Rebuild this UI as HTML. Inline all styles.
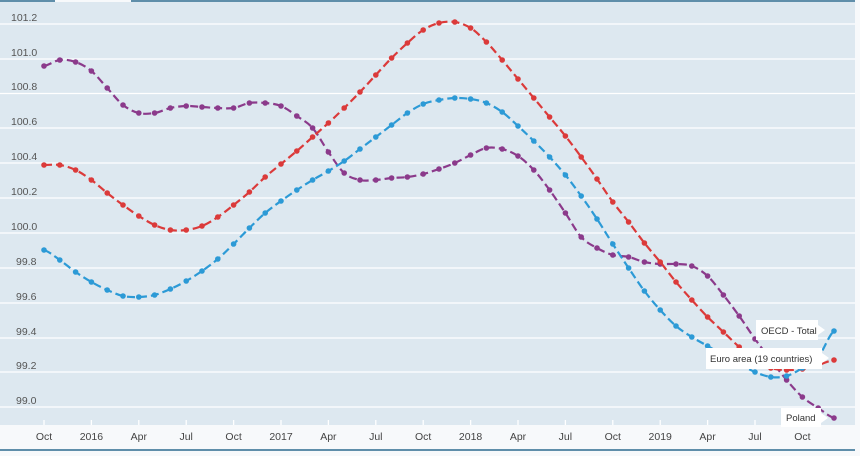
<!DOCTYPE html>
<html><head><meta charset="utf-8"><style>
html,body{margin:0;padding:0;background:#fff;}
svg{display:block;font-family:"Liberation Sans",sans-serif;}
</style></head><body>
<svg id="c" width="860" height="456" xmlns="http://www.w3.org/2000/svg">
<rect x="0" y="0" width="860" height="456" fill="#f7f9fb"/>
<rect x="0" y="2" width="855" height="423" fill="#dde8f0"/>
<line x1="0" y1="1" x2="55" y2="1" stroke="#2d6b8f" stroke-width="1.5"/>
<line x1="131" y1="1" x2="855" y2="1" stroke="#2d6b8f" stroke-width="1.5"/>
<g stroke="#fff" stroke-width="1.3">
<line x1="0" y1="24" x2="855" y2="24"/><line x1="0" y1="59" x2="855" y2="59"/>
<line x1="0" y1="93.5" x2="855" y2="93.5"/><line x1="0" y1="128" x2="855" y2="128"/>
<line x1="0" y1="163" x2="855" y2="163"/><line x1="0" y1="198" x2="855" y2="198"/>
<line x1="0" y1="233" x2="855" y2="233"/><line x1="0" y1="268" x2="855" y2="268"/>
<line x1="0" y1="303" x2="855" y2="303"/><line x1="0" y1="338" x2="855" y2="338"/>
<line x1="0" y1="372" x2="855" y2="372"/><line x1="0" y1="407" x2="855" y2="407"/>
</g>
<g font-size="10.5" fill="#555">
<text x="11" y="21">101.2</text><text x="11" y="56">101.0</text><text x="11" y="90">100.8</text>
<text x="11" y="125">100.6</text><text x="11" y="160">100.4</text><text x="11" y="195">100.2</text>
<text x="11" y="230">100.0</text><text x="16" y="265">99.8</text><text x="16" y="300">99.6</text>
<text x="16" y="335">99.4</text><text x="16" y="369">99.2</text><text x="16" y="404">99.0</text>
</g>
<g id="ticks" stroke="#fff" stroke-width="1.3"></g>
<g id="xl" font-size="10.5" fill="#444" text-anchor="middle"></g>
<line x1="0" y1="450" x2="855" y2="450" stroke="#2d6b8f" stroke-width="1.5"/>
<g id="series"></g>
<g font-size="9.5" fill="#333">
<rect x="756" y="320" width="62" height="20" fill="#fff"/><polygon points="818,325 825,330 818,335" fill="#fff"/>
<text x="761" y="334">OECD - Total</text>
<rect x="706" y="348" width="116" height="21" fill="#fff"/><polygon points="822,353 829,358 822,363" fill="#fff"/>
<text x="710" y="362">Euro area (19 countries)</text>
<rect x="781" y="408" width="40" height="19" fill="#fff"/><polygon points="821,413 828,418 821,423" fill="#fff"/>
<text x="786" y="421">Poland</text>
</g>
</svg>
<script>
var ns="http://www.w3.org/2000/svg";
function X(i){return 44+i*15.8;}
var labs=["Oct","2016","Apr","Jul","Oct","2017","Apr","Jul","Oct","2018","Apr","Jul","Oct","2019","Apr","Jul","Oct"];
var tk=document.getElementById("ticks"),xl=document.getElementById("xl");
labs.forEach(function(l,k){var x=X(k*3);
var ln=document.createElementNS(ns,"line");ln.setAttribute("x1",x);ln.setAttribute("x2",x);ln.setAttribute("y1",420);ln.setAttribute("y2",425);tk.appendChild(ln);
var t=document.createElementNS(ns,"text");t.setAttribute("x",x);t.setAttribute("y",440);t.textContent=l;xl.appendChild(t);});
var blue=[250,260,272,282,290,296,297,295,289,281,271,259,244,228,213,201,190,180,171,161,149,137,125,113,104,100,98,99,103,112,126,141,157,175,196,219,244,268,291,310,326,337,346,355,364,372,377,376,368,357,331];
var red=[165,165,170,180,193,205,216,225,230,230,226,217,205,192,177,164,151,137,123,108,92,75,58,43,30,23,22,28,42,60,79,98,117,136,157,179,202,222,243,262,282,300,317,332,347,361,368,370,369,365,360];
var pur=[66,60,62,71,88,105,113,113,108,106,107,108,108,103,103,106,116,128,152,173,180,180,178,177,174,169,163,155,148,149,156,170,190,213,237,248,255,257,262,264,264,266,276,295,316,339,360,380,397,408,418];
var sg=document.getElementById("series");
[[pur,"#8b3a8b"],[red,"#db3a3a"],[blue,"#2c9ad6"]].forEach(function(s){
var a=s[0],n=a.length,d="M"+X(0)+","+a[0];
for(var i=0;i<n-1;i++){var p0=a[Math.max(0,i-1)],p1=a[i],p2=a[i+1],p3=a[Math.min(n-1,i+2)];
var x1=X(i),x2=X(i+1),h=15.8/3;
d+="C"+(x1+h).toFixed(1)+","+(p1+(p2-p0)/6).toFixed(1)+" "+(x2-h).toFixed(1)+","+(p2-(p3-p1)/6).toFixed(1)+" "+x2.toFixed(1)+","+p2;}
var p=document.createElementNS(ns,"path");p.setAttribute("d",d);p.setAttribute("fill","none");p.setAttribute("stroke",s[1]);p.setAttribute("stroke-width","2.2");p.setAttribute("stroke-dasharray","8,4");sg.appendChild(p);
a.forEach(function(y,i){var c=document.createElementNS(ns,"circle");c.setAttribute("cx",X(i));c.setAttribute("cy",y);c.setAttribute("r",2.8);c.setAttribute("fill",s[1]);sg.appendChild(c);});
});
</script>
</body></html>
